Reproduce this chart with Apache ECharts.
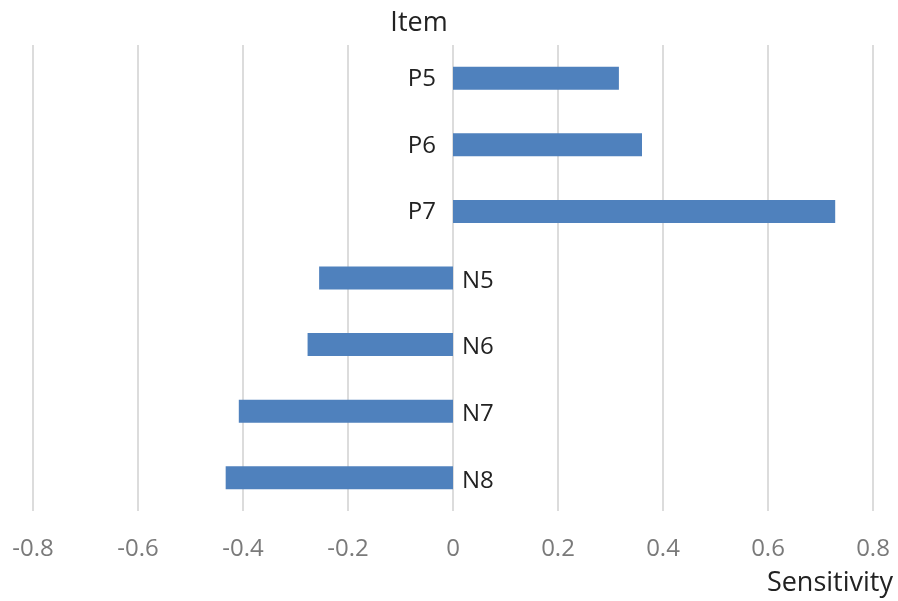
<!DOCTYPE html>
<html>
<head>
<meta charset="utf-8">
<script src="https://cdn.jsdelivr.net/npm/echarts@6/dist/echarts.min.js"></script>
<style>html,body{margin:0;padding:0;background:#fff}#c{width:898px;height:601px}</style>
</head>
<body>
<div id="c"></div>
<script>
const categories = ['P5', 'P6', 'P7', 'N5', 'N6', 'N7', 'N8'];
const sensitivity = [0.316, 0.36, 0.728, -0.255, -0.277, -0.408, -0.433];
const xTicks = [-0.8, -0.6, -0.4, -0.2, 0, 0.2, 0.4, 0.6, 0.8];
const yTitle = 'Item';
const xTitle = 'Sensitivity';

const FONT = '"Open Sans", sans-serif';
const chart = echarts.init(document.getElementById('c'), null, {renderer: 'canvas'});

const labelData = categories.map((c, i) => ({
  value: [0, c],
  label: {
    show: true,
    formatter: c,
    position: sensitivity[i] >= 0 ? 'left' : 'right',
    distance: sensitivity[i] >= 0 ? 17 : 9,
    offset: sensitivity[i] >= 0 ? [0, 1] : [0, 3],
    fontSize: 24,
    fontFamily: FONT,
    color: '#222222',
    opacity: 1
  }
}));

chart.setOption({
  animation: false,
  grid: {left: 33, right: 25, top: 45, bottom: 90, containLabel: false},
  xAxis: {
    type: 'value',
    min: xTicks[0],
    max: xTicks[xTicks.length - 1],
    interval: 0.2,
    axisLine: {show: false},
    axisTick: {show: false},
    splitLine: {show: true, lineStyle: {color: '#dcdcdc', width: 2}},
    axisLabel: {
      margin: 26,
      fontSize: 24,
      fontFamily: FONT,
      color: '#7a7a7a',
      formatter: function (v) {
        const t = xTicks.find(x => Math.abs(x - v) < 1e-9);
        return t === undefined ? '' : String(t);
      }
    }
  },
  yAxis: {
    type: 'category',
    inverse: true,
    data: categories,
    axisLine: {show: false},
    axisTick: {show: false},
    axisLabel: {show: false},
    splitLine: {show: false}
  },
  series: [
    {
      type: 'bar',
      data: sensitivity,
      barWidth: 23,
      itemStyle: {color: '#4f81bd'},
      z: 2
    },
    {
      type: 'scatter',
      data: labelData,
      symbolSize: 0.01,
      itemStyle: {color: '#222222', opacity: 1},
      z: 3,
      silent: true
    }
  ],
  graphic: [
    {type: 'text', style: {text: yTitle, x: 419, y: 23, align: 'center', verticalAlign: 'middle', font: '27px ' + FONT, fill: '#222222'}},
    {type: 'text', style: {text: xTitle, x: 893, y: 583, align: 'right', verticalAlign: 'middle', font: '27px ' + FONT, fill: '#222222'}}
  ]
});
</script>
</body>
</html>
